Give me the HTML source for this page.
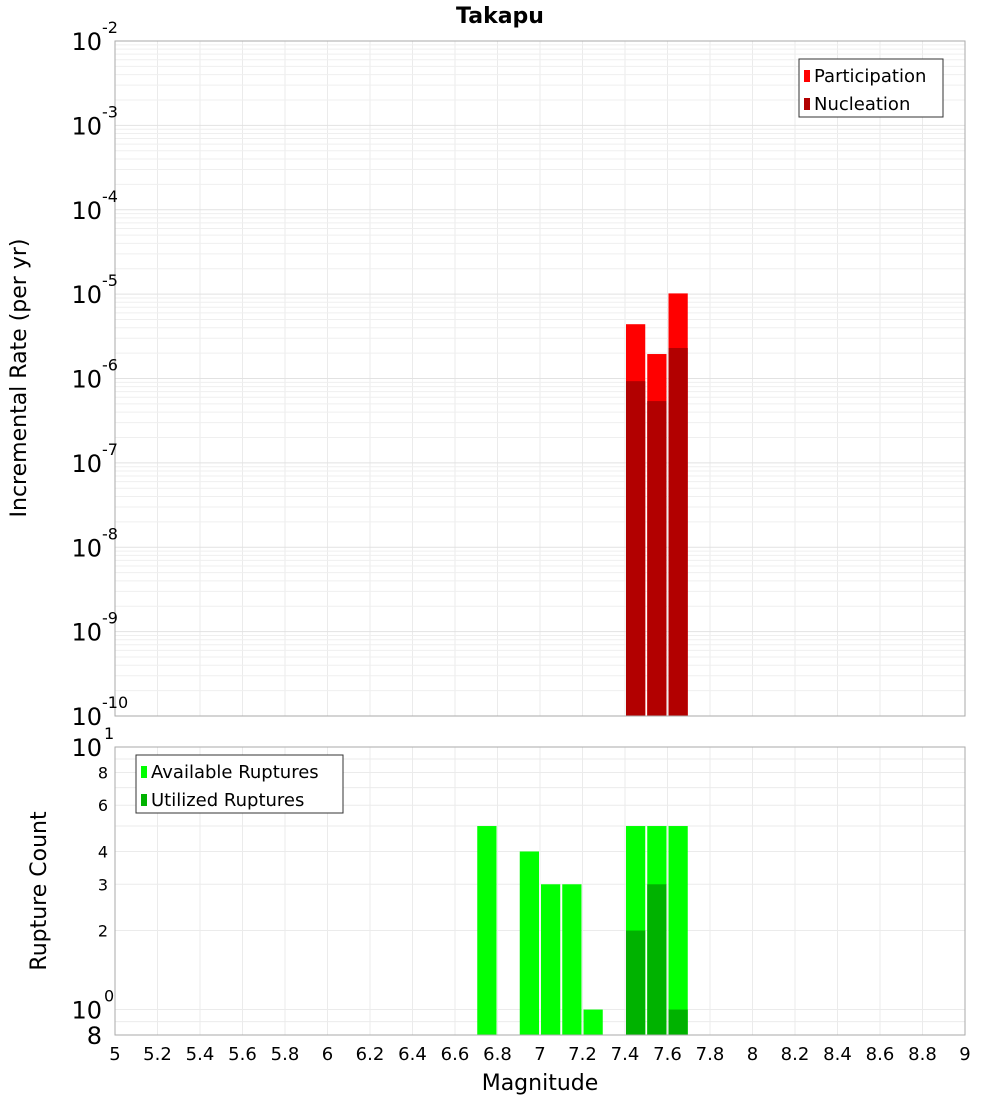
<!DOCTYPE html>
<html><head><meta charset="utf-8"><style>
body{margin:0;background:#fff;font-family:"Liberation Sans","DejaVu Sans",sans-serif}
svg text{font-family:"DejaVu Sans","Liberation Sans",sans-serif}
</style></head><body>
<svg id="c" width="1000" height="1100" xmlns="http://www.w3.org/2000/svg"></svg>
<script>
const mags = [6.75, 6.95, 7.05, 7.15, 7.25, 7.45, 7.55, 7.65];
const participation = [null, null, null, null, null, 4.4e-6, 1.95e-6, 1.02e-5];
const nucleation = [null, null, null, null, null, 9.3e-7, 5.4e-7, 2.3e-6];
const available = [5, 4, 3, 3, 1, 5, 5, 5];
const utilized = [null, null, null, null, null, 2, 3, 1];
const xTicks = [5,5.2,5.4,5.6,5.8,6,6.2,6.4,6.6,6.8,7,7.2,7.4,7.6,7.8,8,8.2,8.4,8.6,8.8,9];
const topExps = [-2,-3,-4,-5,-6,-7,-8,-9,-10];
const botLabels = [[10,"10",1],[8,"8"],[6,"6"],[4,"4"],[3,"3"],[2,"2"],[1,"10",0],[0.8,"8"]];

const svg = document.getElementById('c');
const NS = 'http://www.w3.org/2000/svg';
function el(tag, attrs, parent){const e=document.createElementNS(NS,tag);for(const k in attrs)e.setAttribute(k,attrs[k]);(parent||svg).appendChild(e);return e;}
const X0=115,X1=965;
const x = m => X0 + (m-5)/4*(X1-X0);
const T0=41,T1=716;
const yTop = v => T0 + (-2 - Math.log10(v))/8*(T1-T0);
const B0=747,B1=1035;
const yBot = v => B0 + (1 - Math.log10(v))/(1-Math.log10(0.8))*(B1-B0);

// plot backgrounds
el('rect',{x:X0,y:T0,width:X1-X0,height:T1-T0,fill:'#fff'});
el('rect',{x:X0,y:B0,width:X1-X0,height:B1-B0,fill:'#fff'});
// vertical gridlines
xTicks.forEach(t=>{
  el('line',{x1:x(t),x2:x(t),y1:T0,y2:T1,stroke:'#ebebeb','stroke-width':1});
  el('line',{x1:x(t),x2:x(t),y1:B0,y2:B1,stroke:'#ebebeb','stroke-width':1});
});
// top minor gridlines
for(let e=-10;e<-2;e++){for(let k=1;k<10;k++){const v=k*Math.pow(10,e);el('line',{x1:X0,x2:X1,y1:yTop(v),y2:yTop(v),stroke:k==1?'#e2e2e2':'#efefef','stroke-width':1});}}
// bottom gridlines
[0.8,0.9,1,2,3,4,5,6,7,8,9,10].forEach(v=>el('line',{x1:X0,x2:X1,y1:yBot(v),y2:yBot(v),stroke:'#ebebeb','stroke-width':1}));

// top bars
const bw=(x(5.1)-x(5))-2;
mags.forEach((m,i)=>{
  if(participation[i]!=null){const r=el('rect',{x:x(m)-bw/2,y:yTop(participation[i]),width:bw,height:T1-yTop(participation[i]),fill:'#ff0000'});
  }
  if(nucleation[i]!=null){const r=el('rect',{x:x(m)-bw/2,y:yTop(nucleation[i]),width:bw,height:T1-yTop(nucleation[i]),fill:'#b20000'});
  }
  if(available[i]!=null){const r=el('rect',{x:x(m)-bw/2,y:yBot(available[i]),width:bw,height:B1-yBot(available[i]),fill:'#00ff00'});
  }
  if(utilized[i]!=null){const r=el('rect',{x:x(m)-bw/2,y:yBot(utilized[i]),width:bw,height:B1-yBot(utilized[i]),fill:'#00b200'});
  }
});
// borders
el('rect',{x:X0,y:T0,width:X1-X0,height:T1-T0,fill:'none',stroke:'#aaa'});
el('rect',{x:X0,y:B0,width:X1-X0,height:B1-B0,fill:'none',stroke:'#aaa'});

// title
let t=el('text',{x:500,y:23,'text-anchor':'middle','font-size':22,'font-weight':'bold'});t.textContent='Takapu';

// top y labels
topExps.forEach(e=>{
  const yy=yTop(Math.pow(10,e));
  const tx=el('text',{x:102,y:yy+9,'text-anchor':'end','font-size':24});tx.textContent='10';
  
  const s=el('text',{x:102,y:yy-8,'font-size':16});s.textContent=String(e);
});
// bottom y labels
botLabels.forEach(b=>{
  const yy=yBot(b[0]);
  if(b[2]!==undefined){
    const tx=el('text',{x:102,y:yy+9,'text-anchor':'end','font-size':24});tx.textContent=b[1];
    const s=el('text',{x:104,y:yy-8,'font-size':16});s.textContent=String(b[2]);
  } else {
    const big = b[0]<1;
    const tx=el('text',{x:big?102:108,y:yy+(big?9:6),'text-anchor':'end','font-size':big?24:16});tx.textContent=b[1];
  }
});
// x labels
xTicks.forEach(v=>{const tx=el('text',{x:x(v),y:1060,'text-anchor':'middle','font-size':18});tx.textContent=String(v);
});
t=el('text',{x:540,y:1090,'text-anchor':'middle','font-size':22});t.textContent='Magnitude';

t=el('text',{x:0,y:0,'text-anchor':'middle','font-size':22,transform:'translate(26,378) rotate(-90)'});t.textContent='Incremental Rate (per yr)';

t=el('text',{x:0,y:0,'text-anchor':'middle','font-size':22,transform:'translate(46,891) rotate(-90)'});t.textContent='Rupture Count';


// legends
function legend(x0,y0,w,items,name){
  const g=el('g',{});
  el('rect',{x:x0,y:y0,width:w,height:58,fill:'#fff',stroke:'#333'},g);
  items.forEach((it,i)=>{
    el('rect',{x:x0+5,y:y0+11+i*28,width:6,height:12,fill:it[1]},g);
    const tx=el('text',{x:x0+15,y:y0+23+i*28,'font-size':18},g);tx.textContent=it[0];
  });
}
legend(799,59,144,[['Participation','#ff0000'],['Nucleation','#b20000']],'legend-top');
legend(136,755,207,[['Available Ruptures','#00ff00'],['Utilized Ruptures','#00b200']],'legend-bottom');
</script>
</body></html>
